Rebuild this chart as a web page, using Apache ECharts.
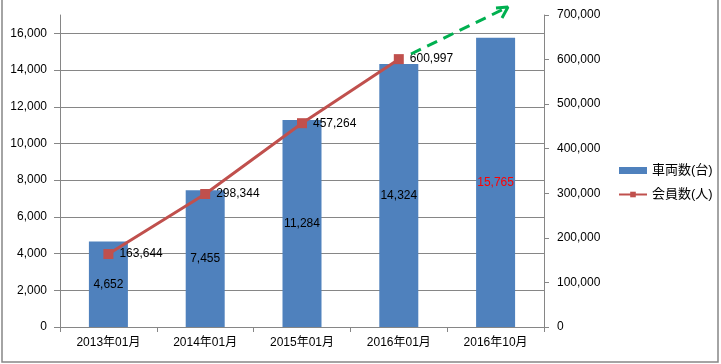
<!DOCTYPE html>
<html><head><meta charset="utf-8">
<script src="https://cdn.jsdelivr.net/npm/echarts@6/dist/echarts.min.js"></script>
<style>html,body{margin:0;padding:0;background:#fff}#c{width:721px;height:364px}</style>
</head><body><div id="c"></div>
<script>
const categories = ['2013年01月','2014年01月','2015年01月','2016年01月','2016年10月'];
const vehicles = [4652, 7455, 11284, 14324, 15765];
const members = [163644, 298344, 457264, 600997];
const arrowLine = [[3.126, 612500], [4.128, 717950]];
const arrowHead = [[4.004, 715700], [4.128, 717950], [4.066, 693270]];
const leftTicks = {min: 0, max: 16000, interval: 2000};
const rightTicks = {min: 0, max: 700000, interval: 100000};

const FONT = "'Liberation Sans','Noto Sans CJK JP',sans-serif";
const GRAY = '#868686';
const fmt = v => Number(v).toLocaleString('en-US');
const hiddenAxis = {show: false, axisLine: {show: false, onZero: false}, axisTick: {show: false}, axisLabel: {show: false}, splitLine: {show: false}};

const chart = echarts.init(document.getElementById('c'), null, {renderer: 'canvas'});
chart.setOption({
  animation: false,
  textStyle: {fontFamily: FONT},
  grid: [
    {left: 60, right: 177, top: 15, bottom: 37},
    {left: 60, right: 177, top: 327 - 16000 / 17000 * 312, bottom: 37}
  ],
  legend: {
    orient: 'vertical', left: 613, top: 159, itemWidth: 28, itemHeight: 7, itemGap: 11,
    data: [{name: '車両数(台)', icon: 'rect'}, {name: '会員数(人)'}],
    textStyle: {fontSize: 13, color: '#000', fontFamily: FONT}
  },
  xAxis: [
    {type: 'category', data: categories, gridIndex: 0,
     axisLine: {onZero: false, lineStyle: {color: GRAY, width: 1}},
     axisTick: {show: true, length: 5, lineStyle: {color: GRAY}},
     splitLine: {show: false},
     axisLabel: {color: '#000', fontSize: 12, margin: 10, fontFamily: FONT}},
    Object.assign({type: 'value', gridIndex: 0, min: -0.5, max: 4.5}, hiddenAxis),
    Object.assign({type: 'value', gridIndex: 1, min: 0, max: 1}, hiddenAxis)
  ],
  yAxis: [
    {type: 'value', gridIndex: 0, position: 'left', min: 0, max: 17000, interval: 1000,
     axisLine: {show: true, onZero: false, lineStyle: {color: GRAY}}, axisTick: {show: false},
     axisLabel: {show: false}, splitLine: {show: false}},
    {type: 'value', gridIndex: 0, position: 'right', min: rightTicks.min, max: rightTicks.max, interval: rightTicks.interval,
     axisLine: {show: true, onZero: false, lineStyle: {color: GRAY}},
     axisTick: {show: true, length: 5, lineStyle: {color: GRAY}},
     axisLabel: {color: '#000', fontSize: 12, margin: 13, formatter: fmt, fontFamily: FONT},
     splitLine: {show: false}},
    {type: 'value', gridIndex: 1, position: 'left', min: leftTicks.min, max: leftTicks.max, interval: leftTicks.interval,
     axisLine: {show: false, onZero: false},
     axisTick: {show: true, length: 6, lineStyle: {color: GRAY}},
     axisLabel: {color: '#000', fontSize: 12, margin: 13, formatter: fmt, fontFamily: FONT},
     splitLine: {show: true, lineStyle: {color: GRAY, width: 1}}}
  ],
  series: [
    {name: '車両数(台)', type: 'bar', xAxisIndex: 0, yAxisIndex: 0, barWidth: 39,
     itemStyle: {color: '#4F81BD'},
     data: vehicles.map((v, i) => ({value: v, label: {color: i === vehicles.length - 1 ? '#FF0000' : '#000'}})),
     label: {show: true, position: 'inside', fontSize: 12, formatter: p => fmt(p.value), fontFamily: FONT}},
    {name: '会員数(人)', type: 'line', xAxisIndex: 0, yAxisIndex: 1, data: members,
     symbol: 'rect', symbolSize: 10,
     lineStyle: {color: '#C0504D', width: 3}, itemStyle: {color: '#C0504D'},
     label: {show: true, position: 'right', distance: 6, color: '#000', fontSize: 12, formatter: p => fmt(p.value), fontFamily: FONT},
     z: 3},
    {type: 'line', xAxisIndex: 1, yAxisIndex: 1, data: arrowLine, symbol: 'none', clip: false,
     lineStyle: {color: '#00B050', width: 3, type: [11, 7]}, z: 4, silent: true},
    {type: 'line', xAxisIndex: 1, yAxisIndex: 1, data: arrowHead, symbol: 'none', clip: false,
     lineStyle: {color: '#00B050', width: 3}, z: 4, silent: true}
  ],
  graphic: [{type: 'rect', shape: {x: 2, y: -3, width: 716, height: 365}, style: {fill: 'none', stroke: GRAY, lineWidth: 1.5}, silent: true}]
});
</script></body></html>
